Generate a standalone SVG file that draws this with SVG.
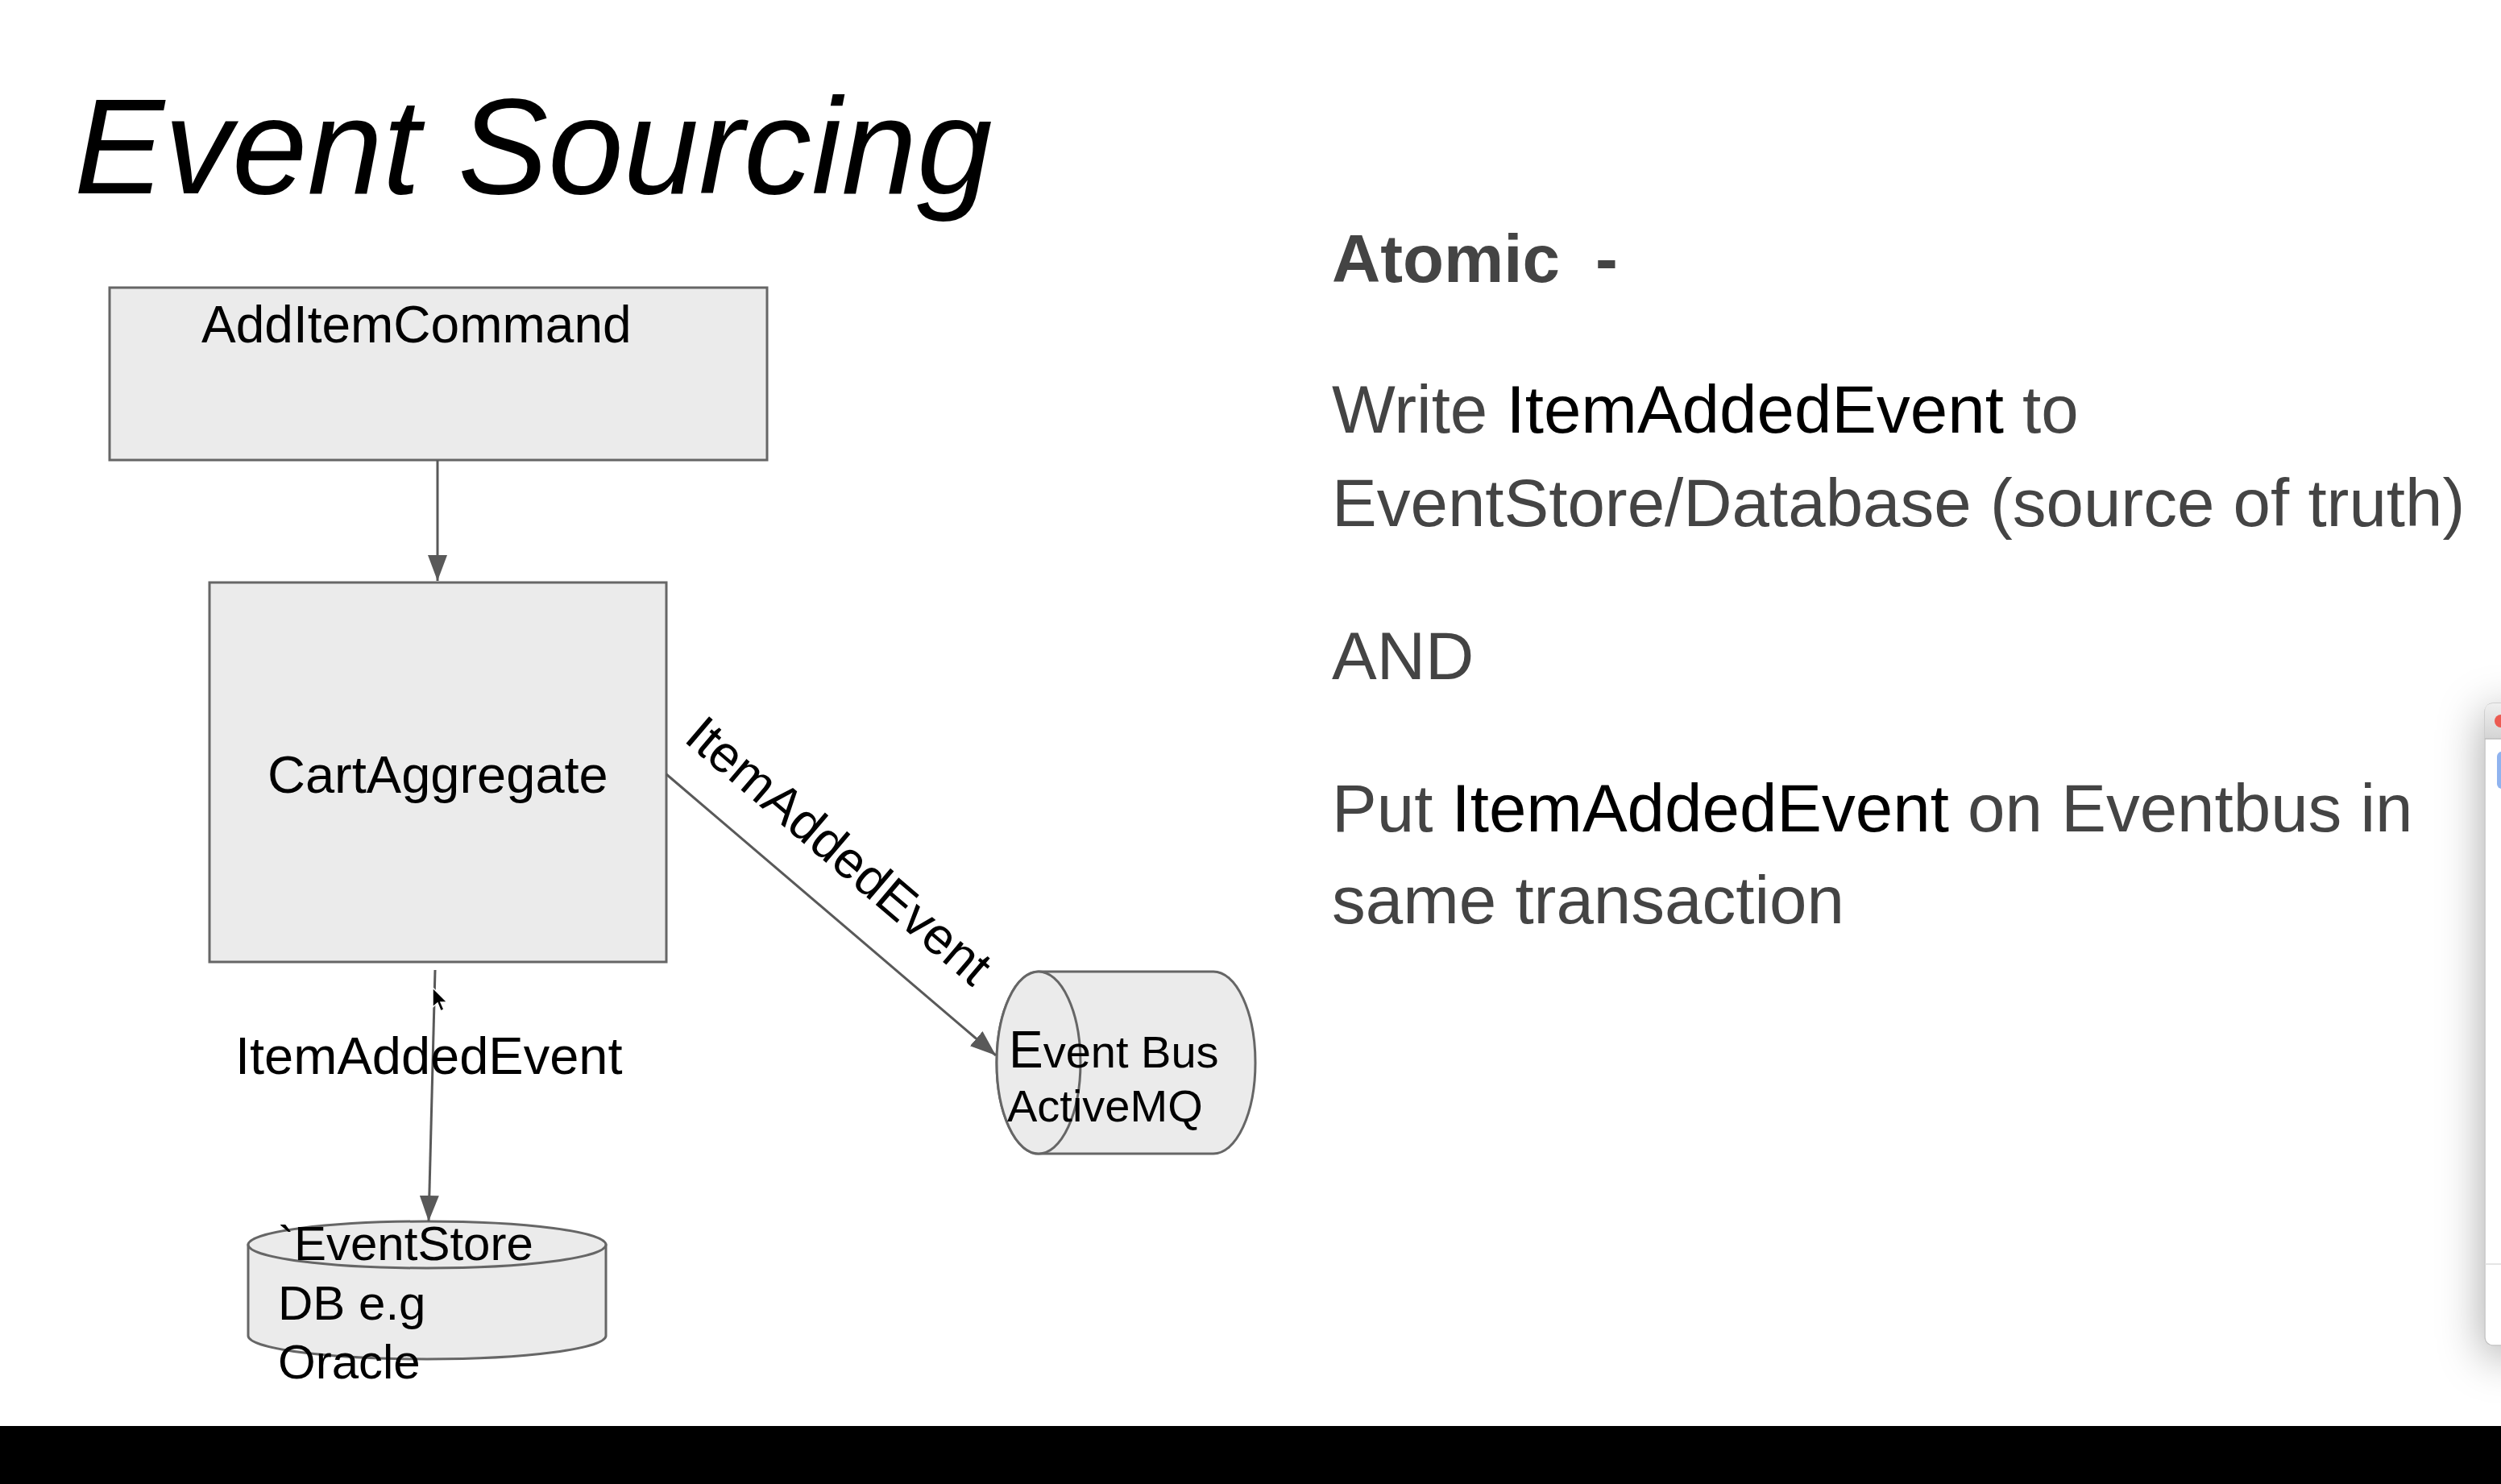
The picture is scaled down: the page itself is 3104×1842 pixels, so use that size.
<svg xmlns="http://www.w3.org/2000/svg" width="3104" height="1842" viewBox="0 0 3104 1842">
<defs>
<style>
.box{fill:#ebebeb;stroke:#666;stroke-width:3}
.conn{fill:none;stroke:#595959;stroke-width:3}
.lbl{font-family:"Liberation Sans",Arial,sans-serif;fill:#000}
.rt{font-family:"Liberation Sans",Arial,sans-serif;font-size:83.5px;fill:#444}
.hl{fill:#000}
</style>
<marker id="ah" markerUnits="userSpaceOnUse" markerWidth="34" markerHeight="26" refX="32" refY="12" orient="auto">
<path d="M0,0 L32,12 L0,24 Z" fill="#595959"/>
</marker>
<linearGradient id="tb" x1="0" y1="0" x2="0" y2="1">
<stop offset="0" stop-color="#efefef"/>
<stop offset="1" stop-color="#d4d4d4"/>
</linearGradient>
<filter id="sh" x="-300%" y="-20%" width="700%" height="140%">
<feDropShadow dx="0" dy="12" stdDeviation="28" flood-color="#000" flood-opacity="0.35"/>
</filter>
</defs>
<rect x="0" y="0" width="3104" height="1842" fill="#fff"/>

<text class="lbl" x="92" y="240" font-size="168" font-style="italic">Event Sourcing</text>

<g id="addItemCommand">
<rect class="box" x="136" y="357" width="816" height="214"/>
<text class="lbl" x="250" y="425" font-size="64">AddItemCommand</text>
</g>

<g id="cartAggregate">
<rect class="box" x="260" y="723" width="567" height="471"/>
<text class="lbl" x="332" y="984" font-size="65">CartAggregate</text>
</g>

<g id="eventBus">
<path class="box" d="M1289,1206 L1506,1206 A52,113 0 0 1 1506,1432 L1289,1432 A52,113 0 0 1 1289,1206 Z"/>
<ellipse class="box" cx="1289" cy="1319" rx="52" ry="113"/>
<text class="lbl" x="1252" y="1325" font-size="56"><tspan font-size="64">E</tspan>vent Bus</text>
<text class="lbl" x="1250" y="1392" font-size="56">ActiveMQ</text>
</g>

<g id="eventStore">
<path class="box" d="M308,1545 L308,1658 A222,29 0 0 0 752,1658 L752,1545 Z"/>
<ellipse class="box" cx="530" cy="1545" rx="222" ry="29"/>
<text class="lbl" x="345" y="1564" font-size="60">`EventStore</text>
<text class="lbl" x="345" y="1638" font-size="60">DB e.g</text>
<text class="lbl" x="345" y="1711" font-size="60">Oracle</text>
</g>

<g id="connectors">
<line class="conn" x1="543" y1="571" x2="543" y2="721" marker-end="url(#ah)"/>
<line class="conn" x1="827" y1="961" x2="1236" y2="1310" marker-end="url(#ah)"/>
<line class="conn" x1="540" y1="1204" x2="532" y2="1516" marker-end="url(#ah)"/>
<text class="lbl" font-size="64" transform="translate(847,919) rotate(40.4)">ItemAddedEvent</text>
<text class="lbl" x="292" y="1333" font-size="65">ItemAddedEvent</text>
</g>

<path d="M537,1226 L537,1250 L543,1245 L547,1255 L551,1253 L547,1244 L555,1244 Z" fill="#000" stroke="#fff" stroke-width="1.5"/>

<g id="notes">
<text class="rt" x="1653" y="350" font-weight="bold">Atomic<tspan x="1980">-</tspan></text>
<text class="rt" x="1653" y="537">Write <tspan class="hl">ItemAddedEvent</tspan> to</text>
<text class="rt" x="1653" y="653">EventStore/Database (source of truth)</text>
<text class="rt" x="1653" y="843">AND</text>
<text class="rt" x="1653" y="1032">Put <tspan class="hl">ItemAddedEvent</tspan> on Eventbus in</text>
<text class="rt" x="1653" y="1146">same transaction</text>
</g>

<g id="window">
<rect x="3084" y="873" width="60" height="797" rx="10" fill="#fff" stroke="#c4c4c4" stroke-width="1.5" filter="url(#sh)"/>
<path d="M3084,917 L3084,883 Q3084,873 3094,873 L3104,873 L3104,917 Z" fill="url(#tb)"/>
<line x1="3084" y1="917" x2="3104" y2="917" stroke="#bdbdbd" stroke-width="1.5"/>
<circle cx="3104" cy="895" r="8" fill="#ec5b52"/>
<rect x="3099" y="933" width="20" height="46" rx="6" fill="#8fb3ef"/>
<line x1="3084" y1="1569" x2="3104" y2="1569" stroke="#ddd" stroke-width="1.5"/>
</g>

<rect x="0" y="1770" width="3104" height="72" fill="#000"/>
</svg>
